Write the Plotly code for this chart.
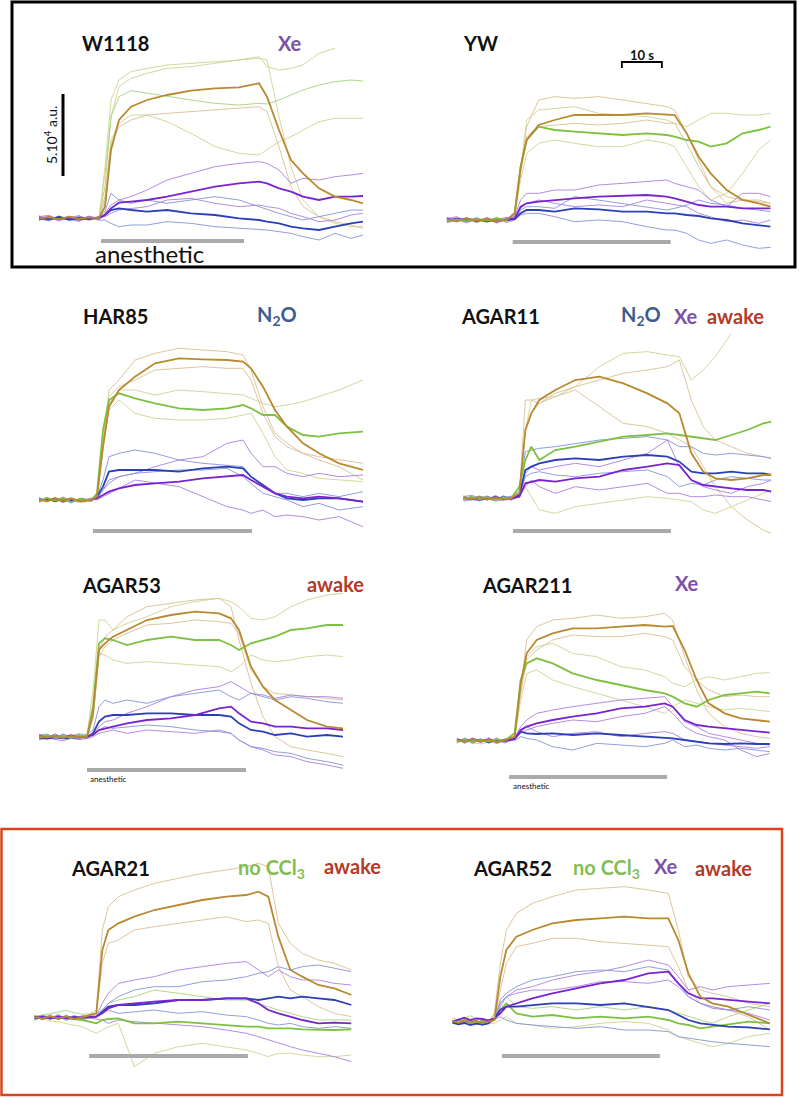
import plotly.graph_objects as go

W, H = 799, 1098

# ---------------- data (time in s, signal in units: 246 units = 5e4 a.u.) ----------------
# W1118 (Xe)
w1118_t = [0, 2.5, 5, 7.5, 10, 12.5, 15, 16.5, 18, 20, 23, 27, 32, 38, 44, 50, 55, 57, 60, 63, 66, 70, 74, 78, 81]
w1118_brown = [0,4,-3,5,-2,3,1, 35,205,295,335,355,370,383,390,393,405,365,265,175,135,90,65,55,45]
w1118_olive1 = [3,-5,6,-4,2,-6,0, 155,355,415,440,450,460,465,470,475,485,455,445,450,460,495,510,None,None]
w1118_olive2 = [-5,3,-2,7,-6,4,-4, 135,305,395,420,435,450,455,465,475,480,475,305,155,55,5,-15,-25,-25]
w1118_lgreen = [4,-6,8,-2,5,-4,2, 95,305,365,383,375,365,355,345,340,345,343,355,370,385,400,410,415,412]
w1118_olive3 = [-3,7,-5,3,-8,6,-2, 55,235,285,310,310,290,255,215,195,190,205,230,245,265,290,300,300,300]
w1118_tan1 = [6,-2,4,-7,3,-5,5, 65,225,275,295,310,315,320,325,330,335,320,215,95,35,5,-10,-20,-30]
w1118_purple = [-2,3,-3,2,-4,2,0, 10,30,47,50,55,65,80,95,105,110,105,90,80,65,55,65,65,67]
w1118_blue = [2,-3,4,-4,1,-2,3, 10,25,30,25,20,25,15,10,0,-5,-10,-15,-25,-30,-35,-25,-15,-10]
w1118_purple_thin1 = [-6,4,-8,6,-3,7,-4, 15,40,55,65,85,115,135,155,165,170,165,145,105,120,115,125,130,135]
w1118_blue_thin1 = [8,-4,3,-6,7,-2,5, 20,75,55,45,55,45,55,65,55,35,25,15,5,-5,5,15,25,25]
w1118_blue_thin2 = [-2,-8,5,-4,-9,3,-6, -5,-15,-25,-20,-20,-10,-15,-25,-30,-35,-35,-40,-45,-55,-65,-45,-60,-50]
w1118_purple_thin2 = [5,9,-3,2,8,-5,4, 5,15,25,30,35,55,60,45,35,40,35,30,15,5,-10,-5,10,15]
w1118_bar = [15.5, 51.25]

# YW
yw_t = [0, 2.5, 5, 7.5, 10, 12.5, 15, 17, 18.5, 20, 23, 27, 32, 38, 44, 50, 55, 57, 60, 63, 66, 70, 74, 78, 81]
yw_brown = [2,-3,4,-2,3,-4,1, 20,160,240,285,300,315,315,315,320,315,315,260,190,140,90,60,50,40]
yw_green = [-3,2,-4,3,-2,4,0, 20,160,240,280,270,265,260,255,260,255,250,240,235,220,230,260,270,280]
yw_tan1 = [5,-6,3,-8,6,-3,4, 15,150,280,360,370,365,370,360,350,340,330,260,180,100,50,60,60,50]
yw_olive1 = [-4,8,-5,2,-7,9,-2, 15,150,300,330,335,340,320,315,310,300,290,280,300,320,320,315,315,320]
yw_olive2 = [7,-3,6,-5,4,-8,3, 10,120,200,230,240,230,220,220,240,230,220,160,100,60,80,140,210,240]
yw_tan2 = [-7,4,-3,8,-5,3,-6, 15,140,250,280,285,290,285,290,300,290,290,230,160,100,70,60,55,50]
yw_purple = [3,-2,5,-3,2,-5,2, 5,40,50,55,60,65,70,72,75,70,65,55,45,40,40,35,35,35]
yw_blue = [-2,4,-3,2,-4,3,-1, 3,20,30,30,25,35,32,25,25,20,20,15,12,5,0,-10,-15,-20]
yw_purple_thin1 = [9,-5,4,-7,8,-3,6, 10,60,80,80,90,90,105,110,115,120,110,100,90,60,40,80,80,70]
yw_blue_thin1 = [-6,3,-9,5,-4,7,-8, 0,15,20,20,10,-5,0,-5,-20,-30,-30,-40,-60,-70,-60,-75,-85,-82]
yw_purple_thin2 = [4,10,-2,6,-6,2,8, 5,35,50,60,50,40,45,40,60,50,45,40,20,10,-5,0,-10,0]
yw_blue_thin2 = [-8,-2,7,-4,5,-9,3, 0,30,40,40,35,70,60,50,40,30,35,45,60,50,45,35,30,25]
yw_bar = [16.5, 56.0]

# HAR85 (N2O)
har85_t = [0, 2, 4, 6, 8, 10.5, 13, 14.5, 16, 17.5, 20, 24, 29, 35, 41, 47, 51, 53, 56, 59, 62, 66, 70, 75, 81]
har85_brown = [1,-3,3,-2,4,-3,0, 10,160,280,330,370,410,425,422,420,415,395,340,270,220,170,140,110,90]
har85_green = [-4,6,-2,5,-6,3,-2, 20,210,300,320,305,290,275,270,275,285,275,255,255,220,195,190,200,205]
har85_tan1 = [5,-4,7,-6,3,-5,4, 10,170,330,360,420,440,455,450,445,435,390,280,200,170,140,130,120,110]
har85_tan2 = [-6,5,-3,7,-4,6,-5, 10,170,310,340,360,390,395,400,395,395,360,260,190,160,140,120,100,60]
har85_olive1 = [3,-7,5,-3,8,-4,2, 15,180,290,330,330,315,330,325,320,315,305,290,280,285,295,310,330,360]
har85_olive2 = [-8,2,-5,6,-3,-7,-4, 10,150,270,300,260,245,240,240,245,255,260,200,130,90,80,65,60,55]
har85_purple = [2,-2,4,-3,2,-3,1, 5,15,25,35,45,50,55,65,70,75,60,40,20,10,5,10,5,-5]
har85_blue = [-2,3,-3,4,-2,2,-1, 10,40,85,90,90,90,85,95,100,95,70,45,20,5,0,5,5,-5]
har85_blue_thin1 = [6,-5,8,-3,5,-6,3, 10,60,130,140,150,140,120,110,105,100,70,40,20,20,10,20,10,25]
har85_purple_thin1 = [-5,7,-4,9,-6,4,-3, 5,30,50,70,80,100,120,130,170,180,140,100,100,80,70,80,70,75]
har85_purple_thin2 = [7,-3,5,-8,4,-2,6, 0,10,20,35,60,50,40,10,-20,-30,-40,-30,-50,-45,-50,-60,-50,-80]
har85_blue_thin2 = [-3,8,-6,2,-9,5,-2, 5,30,60,70,80,85,90,90,95,70,50,20,10,0,-20,-10,-30,-20]
har85_bar = [13.5, 53.25]

# AGAR11 (N2O, Xe, awake)
agar11_t = [0, 2, 4, 6, 8, 10, 12, 14, 15.5, 17, 19, 23, 28, 34, 40, 46, 51, 54, 57, 60, 63, 67, 71, 75, 77]
agar11_brown = [3,-2,4,-3,2,-4,1, 15,205,255,295,325,355,365,345,315,285,255,135,80,60,55,60,70,70]
agar11_green = [-3,4,-2,3,-4,2,0, 35,115,155,115,145,155,170,185,190,195,190,185,180,175,190,205,225,230]
agar11_olive1 = [6,-4,3,-7,5,-3,4, 10,200,295,300,305,335,395,435,440,430,425,355,385,425,495,None,None,None]
agar11_tan1 = [-5,7,-6,4,-3,8,-2, 10,295,295,285,305,325,275,225,215,195,175,155,95,35,-25,-65,-95,-105]
agar11_tan2 = [4,-6,8,-2,6,-5,3, 10,200,255,285,315,335,355,375,385,395,415,295,215,175,155,135,125,120]
agar11_olive2 = [-7,3,-4,6,-8,4,-5, 5,35,5,-35,-45,-25,-15,-5,5,0,-5,-10,-35,-45,-25,-5,15,25]
agar11_purple = [2,-3,3,-2,4,-2,0, 5,45,50,55,50,60,65,85,95,105,100,55,40,35,30,25,25,20]
agar11_blue = [-2,2,-4,3,-2,3,-1, 10,85,95,105,115,120,115,125,130,125,110,80,75,75,80,75,75,70]
agar11_blue_thin1 = [8,-3,6,-5,9,-4,7, 20,140,145,150,155,165,175,180,185,175,155,155,135,130,135,130,125,120]
agar11_purple_thin1 = [-4,6,-8,3,-5,7,-6, 10,75,95,85,95,105,95,115,135,175,95,55,35,25,15,35,45,55]
agar11_purple_thin2 = [-9,-4,-7,-2,-8,-5,-3, 5,35,55,35,15,35,25,35,45,15,15,5,5,10,5,5,-5,-10]
agar11_blue_thin2 = [5,9,2,7,-3,6,4, 8,65,75,80,70,65,75,80,85,65,35,45,40,55,65,60,55,55]
agar11_bar = [12.4, 51.9]

# AGAR53 (awake)
agar53_t = [0, 2, 4, 6, 8, 10, 12, 13.5, 15, 16.5, 18.5, 22, 27, 33, 39, 45, 48, 50, 53, 56, 59, 63, 67, 72, 76]
agar53_brown = [2,-3,3,-4,2,-2,1, 70,260,280,300,320,350,365,375,370,355,320,210,150,110,80,50,30,25]
agar53_green = [-3,4,-2,2,-4,3,0, 90,280,295,290,275,290,300,290,290,275,260,280,290,300,320,325,335,335]
agar53_olive1 = [5,-6,8,-3,6,-5,4, 140,350,350,320,340,360,390,405,415,405,390,355,350,360,390,410,425,430]
agar53_tan1 = [-6,4,-3,7,-5,3,-4, 60,260,300,320,360,390,400,410,415,390,290,160,60,0,-30,-40,-50,-60]
agar53_tan2 = [4,-8,5,-4,8,-6,2, 50,240,270,290,310,335,340,350,345,340,310,200,150,130,125,120,115,110]
agar53_olive2 = [-5,6,-7,4,-2,7,-6, 60,250,245,230,220,225,220,215,210,195,210,245,230,225,230,240,245,240]
agar53_purple = [3,-2,2,-3,4,-2,1, 5,20,25,30,40,50,55,65,85,90,70,45,40,30,30,25,25,20]
agar53_blue = [-3,-6,-2,-5,-4,-1,-2, 10,45,60,65,65,70,70,65,65,60,40,20,15,5,10,0,5,0]
agar53_blue_thin1 = [7,-4,9,-5,4,-7,6, 20,90,110,100,110,100,120,130,140,120,110,130,120,110,120,115,105,100]
agar53_purple_thin1 = [-7,5,-4,8,-6,5,-3, 5,30,45,50,70,90,120,140,150,165,150,130,125,115,125,120,120,115]
agar53_purple_thin2 = [-10,-4,-8,-12,-5,-9,-6, 0,10,15,20,10,20,15,10,20,10,-10,-30,-40,-55,-60,-75,-85,-95]
agar53_blue_thin2 = [5,8,-3,6,2,9,4, 5,20,30,25,30,35,30,20,15,10,-10,-30,-35,-45,-50,-65,-75,-85]
agar53_bar = [12.0, 51.75]

# AGAR211 (Xe)
agar211_t = [0, 2, 4, 6, 8, 10, 12, 14.5, 16, 17.5, 20, 24, 29, 35, 41, 47, 52, 54, 57, 60, 63, 67, 71, 75, 78.3]
agar211_brown = [2,-3,4,-2,3,-4,1, 12,172,262,302,322,337,337,342,347,342,344,272,182,112,82,67,62,57]
agar211_green = [-3,3,-4,2,-3,4,0, 22,182,232,247,232,202,182,167,152,142,132,112,102,122,137,142,147,142]
agar211_tan1 = [6,-4,5,-7,4,-5,3, 12,152,302,342,362,367,377,367,372,382,362,252,152,82,42,22,12,7]
agar211_olive1 = [-6,7,-3,5,-8,3,-4, 12,150,252,282,292,262,252,222,212,192,172,162,182,192,182,192,202,204]
agar211_tan2 = [4,-5,8,-3,6,-6,5, 10,140,242,272,302,317,312,312,322,312,302,222,182,152,132,137,132,132]
agar211_olive2 = [-8,2,-6,-10,-4,-7,-5, 8,120,202,212,182,162,142,122,102,82,102,122,112,102,92,97,92,87]
agar211_purple = [3,-3,5,-2,4,-3,2, 5,32,42,52,62,72,82,97,102,112,102,62,47,42,37,32,27,24]
agar211_blue = [-2,3,-3,2,-5,2,-1, 5,27,22,20,22,17,22,17,12,7,7,2,-3,-8,-10,-8,-10,-10]
agar211_purple_thin1 = [8,-3,6,-5,9,-4,5, 10,42,62,82,92,102,112,122,127,132,102,57,42,22,12,2,-8,-13]
agar211_purple_thin2 = [-5,8,-4,6,-7,8,-3, 5,22,32,42,52,62,57,72,82,102,82,42,22,12,2,-28,-48,-38]
agar211_blue_thin1 = [4,-8,3,-5,6,-9,2, 0,12,7,2,-18,-28,-8,-13,-18,-8,2,-18,-13,-23,-28,-23,-28,-33]
agar211_purple_thin3 = [-4,5,-9,4,-3,6,-7, 5,27,42,27,12,22,27,12,22,27,22,2,-3,-8,-13,-18,-23,-18]
agar211_bar = [13.1, 52.6]

# AGAR21 (no CCl3, awake)
agar21_t = [0, 2, 4, 6, 8, 10, 12, 15.5, 17, 18.5, 21, 25, 30, 36, 42, 48, 53, 56, 58.5, 61, 64, 67, 71, 75, 79.3]
agar21_brown = [2,-3,4,-2,3,-4,1, 13,203,263,283,303,323,338,353,363,368,378,363,243,143,123,98,88,68]
agar21_tan1 = [-5,6,-3,7,-4,5,-2, 23,263,333,363,383,403,418,433,443,453,463,453,283,223,193,173,163,143]
agar21_tan2 = [6,-4,8,-5,3,-6,4, 13,163,223,233,263,273,283,293,303,288,293,283,153,83,63,33,13,3]
agar21_green = [3,5,1,3,-2,-5,-7, -17,-7,-4,-2,-17,-17,-12,-17,-22,-27,-27,-32,-32,-32,-35,-37,-37,-35]
agar21_olive1 = [0,-3,-10,-12,-18,-22,-27, -47,-37,-27,-17,-147,-107,-87,-77,-87,-97,-107,-117,-107,-107,-112,-117,-117,-112]
agar21_olive2 = [-4,8,12,18,22,15,10, 13,23,43,53,63,83,73,63,53,53,43,33,23,13,3,-7,-7,-7]
agar21_purple = [-2,3,-3,4,-2,2,0, 3,13,28,38,43,48,53,53,58,58,43,23,13,3,-7,-17,-15,-17]
agar21_blue = [3,-2,2,-3,3,-2,1, 3,18,33,38,38,43,53,53,58,58,53,58,63,58,63,58,53,38]
agar21_purple_thin1 = [7,-4,9,-6,5,-3,6, 5,43,73,103,113,123,143,153,163,168,143,123,143,123,113,113,103,98]
agar21_blue_thin1 = [-6,8,-3,10,-5,7,-4, 3,23,43,63,83,93,93,108,113,123,133,138,153,143,153,158,148,138]
agar21_purple_thin2 = [4,-7,5,-4,8,-6,2, -3,-7,-17,-7,-12,-17,-22,-27,-37,-47,-57,-67,-77,-87,-97,-107,-117,-132]
agar21_blue_thin2 = [-8,3,-5,6,-9,4,-6, 3,13,23,13,18,23,13,18,8,3,-7,-17,-22,-17,-27,-32,-27,-32]
agar21_bar = [13.7, 53.4]

# AGAR52 (no CCl3, Xe, awake)
agar52_t = [0, 1.5, 3, 4.5, 6, 7.5, 9, 10.5, 12, 13.5, 16, 20, 25, 31, 37, 43, 49, 54, 56.5, 59, 62, 65, 69, 74, 79.4]
agar52_brown = [2,-3,4,-2,3,-4,0, 5,135,215,255,275,295,305,310,315,310,310,245,145,75,55,45,20,-5]
agar52_tan1 = [-4,6,-3,5,-6,3,-2, 25,175,275,325,355,375,395,400,405,395,385,275,135,95,85,75,55,45]
agar52_tan2 = [5,-6,7,-4,4,-7,3, 5,95,175,225,235,250,250,240,235,230,225,165,95,55,45,35,15,-25]
agar52_green = [-3,4,-2,6,-4,2,-3, 5,35,55,25,15,20,10,15,10,15,5,-5,-10,-20,-15,-10,0,-5]
agar52_olive1 = [4,-8,5,-10,6,-12,-4, -5,5,15,-5,-10,-20,-15,-5,0,-5,-25,-45,-55,-65,-75,-65,-45,-35]
agar52_olive2 = [12,5,10,18,8,4,-5, 25,55,75,45,40,45,35,45,35,45,35,25,15,5,-5,15,35,55]
agar52_purple = [0,6,12,5,10,8,4, 10,25,45,55,70,85,100,115,125,145,150,115,85,70,70,65,60,55]
agar52_blue = [-3,-8,-4,-10,-6,-9,-5, 10,35,45,45,50,55,55,50,55,45,35,20,5,-5,-10,-15,-17,-23]
agar52_purple_thin1 = [6,-4,9,-5,4,-7,5, 5,55,75,95,105,125,140,150,165,185,170,135,95,105,95,105,110,115]
agar52_blue_thin1 = [-6,5,-3,8,-5,6,-2, 5,65,85,105,125,135,150,155,150,165,155,115,75,55,45,35,45,35]
agar52_blue_thin2 = [3,-9,4,-6,2,-10,-4, 5,15,5,-5,-10,-15,-20,-15,-25,-25,-30,-45,-50,-55,-60,-65,-70,-75]
agar52_purple_thin2 = [-5,7,-6,4,-8,6,-3, 5,45,75,85,95,95,105,120,120,115,125,105,75,55,40,35,25,5]
agar52_bar = [12.4, 51.9]

scale_amp_units = 246      # = 5.10^4 a.u.
scale_time_s = 10

# ---------------- styles ----------------
STYLE = {
    "brown": ("#b8892f", 1.8), "tan": ("#d9c093", 0.9), "olive": ("#cfd293", 0.9),
    "lgreen": ("#a8d27a", 0.9), "green": ("#7dc142", 1.8),
    "purple": ("#7a22d0", 1.8), "purple_thin": ("#a980e0", 0.9),
    "blue": ("#2b3fb6", 1.8), "blue_thin": ("#8593d8", 0.9),
}

panels = [
    dict(t=w1118_t, bar=w1118_bar, geo=(0, 0, 117, 655, 81, 30, 262), bary=241, traces=[
        ("olive", w1118_olive1), ("olive", w1118_olive2), ("lgreen", w1118_lgreen), ("olive", w1118_olive3),
        ("tan", w1118_tan1), ("purple_thin", w1118_purple_thin1), ("blue_thin", w1118_blue_thin1),
        ("blue_thin", w1118_blue_thin2), ("purple_thin", w1118_purple_thin2),
        ("blue", w1118_blue), ("purple", w1118_purple), ("brown", w1118_brown)]),
    dict(t=yw_t, bar=yw_bar, geo=(400, 0, 140, 660, 81, 30, 262), bary=242, traces=[
        ("tan", yw_tan1), ("olive", yw_olive1), ("olive", yw_olive2), ("tan", yw_tan2),
        ("purple_thin", yw_purple_thin1), ("blue_thin", yw_blue_thin1), ("purple_thin", yw_purple_thin2),
        ("blue_thin", yw_blue_thin2), ("blue", yw_blue), ("purple", yw_purple),
        ("green", yw_green), ("brown", yw_brown)]),
    dict(t=har85_t, bar=har85_bar, geo=(0, 280, 117, 660, 81, 330, 545), bary=531, traces=[
        ("tan", har85_tan1), ("tan", har85_tan2), ("olive", har85_olive1), ("olive", har85_olive2),
        ("blue_thin", har85_blue_thin1), ("purple_thin", har85_purple_thin1), ("purple_thin", har85_purple_thin2),
        ("blue_thin", har85_blue_thin2), ("blue", har85_blue), ("purple", har85_purple),
        ("green", har85_green), ("brown", har85_brown)]),
    dict(t=agar11_t, bar=agar11_bar, geo=(400, 280, 190, 655, 77, 320, 545), bary=531, traces=[
        ("olive", agar11_olive1), ("tan", agar11_tan1), ("tan", agar11_tan2), ("olive", agar11_olive2),
        ("blue_thin", agar11_blue_thin1), ("purple_thin", agar11_purple_thin1), ("purple_thin", agar11_purple_thin2),
        ("blue_thin", agar11_blue_thin2), ("blue", agar11_blue), ("purple", agar11_purple),
        ("green", agar11_green), ("brown", agar11_brown)]),
    dict(t=agar53_t, bar=agar53_bar, geo=(0, 540, 117, 590, 76, 575, 790), bary=770, traces=[
        ("olive", agar53_olive1), ("tan", agar53_tan1), ("tan", agar53_tan2), ("olive", agar53_olive2),
        ("blue_thin", agar53_blue_thin1), ("purple_thin", agar53_purple_thin1), ("purple_thin", agar53_purple_thin2),
        ("blue_thin", agar53_blue_thin2), ("blue", agar53_blue), ("purple", agar53_purple),
        ("green", agar53_green), ("brown", agar53_brown)]),
    dict(t=agar211_t, bar=agar211_bar, geo=(400, 540, 170, 602, 78.3, 590, 795), bary=777, traces=[
        ("tan", agar211_tan1), ("olive", agar211_olive1), ("tan", agar211_tan2), ("olive", agar211_olive2),
        ("purple_thin", agar211_purple_thin1), ("purple_thin", agar211_purple_thin2),
        ("blue_thin", agar211_blue_thin1), ("purple_thin", agar211_purple_thin3),
        ("blue", agar211_blue), ("purple", agar211_purple), ("green", agar211_green), ("brown", agar211_brown)]),
    dict(t=agar21_t, bar=agar21_bar, geo=(0, 790, 103, 683, 79.3, 855, 1090), bary=1056, traces=[
        ("tan", agar21_tan1), ("tan", agar21_tan2), ("olive", agar21_olive1), ("lgreen", agar21_olive2),
        ("purple_thin", agar21_purple_thin1), ("blue_thin", agar21_blue_thin1), ("purple_thin", agar21_purple_thin2),
        ("blue_thin", agar21_blue_thin2), ("green", agar21_green), ("blue", agar21_blue),
        ("purple", agar21_purple), ("brown", agar21_brown)]),
    dict(t=agar52_t, bar=agar52_bar, geo=(400, 790, 157, 695, 79.4, 855, 1090), bary=1056, traces=[
        ("tan", agar52_tan1), ("tan", agar52_tan2), ("olive", agar52_olive1), ("lgreen", agar52_olive2),
        ("purple_thin", agar52_purple_thin1), ("blue_thin", agar52_blue_thin1), ("blue_thin", agar52_blue_thin2),
        ("purple_thin", agar52_purple_thin2), ("green", agar52_green), ("blue", agar52_blue),
        ("purple", agar52_purple), ("brown", agar52_brown)]),
]

fig = go.Figure()
layout = {}
shapes = []
for i, p in enumerate(panels, start=1):
    offx, offy, s, Bz, T, ytop, ybot = p["geo"]
    x0px = offx + s / 3
    x1px = x0px + 4 * T
    sx = "" if i == 1 else str(i)
    layout["xaxis" + sx] = dict(domain=[x0px / W, x1px / W], range=[0, T], visible=False,
                                anchor="y" + sx, fixedrange=True)
    layout["yaxis" + sx] = dict(domain=[1 - ybot / H, 1 - ytop / H],
                                range=[Bz - 3 * (ybot - offy), Bz - 3 * (ytop - offy)],
                                visible=False, anchor="x" + sx, fixedrange=True)
    for kind, vals in p["traces"]:
        col, wd = STYLE[kind]
        fig.add_trace(go.Scatter(x=p["t"], y=vals, mode="lines", line=dict(color=col, width=wd),
                                 xaxis="x" + sx, yaxis="y" + sx, hoverinfo="skip", showlegend=False))
    by = 1 - p["bary"] / H
    shapes.append(dict(type="line", xref="x" + sx, yref="paper", x0=p["bar"][0], x1=p["bar"][1],
                       y0=by, y1=by, line=dict(color="#aaaaaa", width=4)))

# scale bars
shapes.append(dict(type="line", xref="x", yref="y", x0=6, x1=6, y0=127, y1=127 + scale_amp_units,
                   line=dict(color="black", width=3)))
tx0 = 43.8
shapes.append(dict(type="path", xref="x2", yref="y2",
                   path=f"M {tx0},456 L {tx0},474 L {tx0 + scale_time_s},474 L {tx0 + scale_time_s},456",
                   line=dict(color="black", width=1.8)))
# frames
shapes.append(dict(type="rect", xref="paper", yref="paper", x0=12 / W, x1=795 / W,
                   y0=1 - 267 / H, y1=1 - 2 / H, line=dict(color="black", width=3)))
shapes.append(dict(type="rect", xref="paper", yref="paper", x0=1.5 / W, x1=782 / W,
                   y0=1 - 1095 / H, y1=1 - 829 / H, line=dict(color="#d9441f", width=2.5)))

BLACK, PURP, NBLUE, RED, GRN = "#111111", "#7b52a8", "#3d5c8f", "#b23a26", "#84bd55"
TS = 20
texts = [
    ("<b>W1118</b>", 116, 43, BLACK, TS), ("<b>Xe</b>", 290, 43, PURP, TS),
    ("<b>YW</b>", 480, 43, BLACK, TS),
    ("<b>HAR85</b>", 116, 316, BLACK, TS), ("<b>N<sub>2</sub>O</b>", 277, 316, NBLUE, TS),
    ("<b>AGAR11</b>", 500, 316, BLACK, TS), ("<b>N<sub>2</sub>O</b>", 641, 316, NBLUE, TS),
    ("<b>Xe</b>", 686, 316, PURP, TS), ("<b>awake</b>", 735, 316, RED, TS),
    ("<b>AGAR53</b>", 121, 585, BLACK, TS), ("<b>awake</b>", 335, 584, RED, TS),
    ("<b>AGAR211</b>", 527, 585, BLACK, TS), ("<b>Xe</b>", 687, 583, PURP, TS),
    ("<b>AGAR21</b>", 110, 868, BLACK, TS), ("<b>no CCl<sub>3</sub></b>", 271, 868, GRN, TS),
    ("<b>awake</b>", 352, 866, RED, TS),
    ("<b>AGAR52</b>", 512, 868, BLACK, TS), ("<b>no CCl<sub>3</sub></b>", 606, 868, GRN, TS),
    ("<b>Xe</b>", 666, 866, PURP, TS), ("<b>awake</b>", 723, 868, RED, TS),
    ("anesthetic", 149, 253, BLACK, 24),
    ("anesthetic", 108, 779, BLACK, 8), ("anesthetic", 531, 786, BLACK, 8),
    ("<b>10 s</b>", 642, 55, BLACK, 13),
]
ann = []
for txt, x, y, c, sz in texts:
    ann.append(dict(text=txt, x=x / W, y=1 - y / H, xref="paper", yref="paper", showarrow=False,
                    xanchor="center", yanchor="middle", font=dict(family="Lato", size=sz, color=c)))
ann.append(dict(text="5.10<sup>4</sup> a.u.", x=50 / W, y=1 - 135 / H, xref="paper", yref="paper",
                showarrow=False, textangle=-90, xanchor="center", yanchor="middle",
                font=dict(family="Lato", size=14, color=BLACK)))

fig.update_layout(width=W, height=H, margin=dict(l=0, r=0, t=0, b=0), paper_bgcolor="white",
                  plot_bgcolor="rgba(0,0,0,0)", showlegend=False, shapes=shapes, annotations=ann, **layout)
fig.write_html("out.html", config={"displayModeBar": False, "staticPlot": True},
               post_script="document.body.style.margin='0px';document.body.style.overflow='hidden';")
